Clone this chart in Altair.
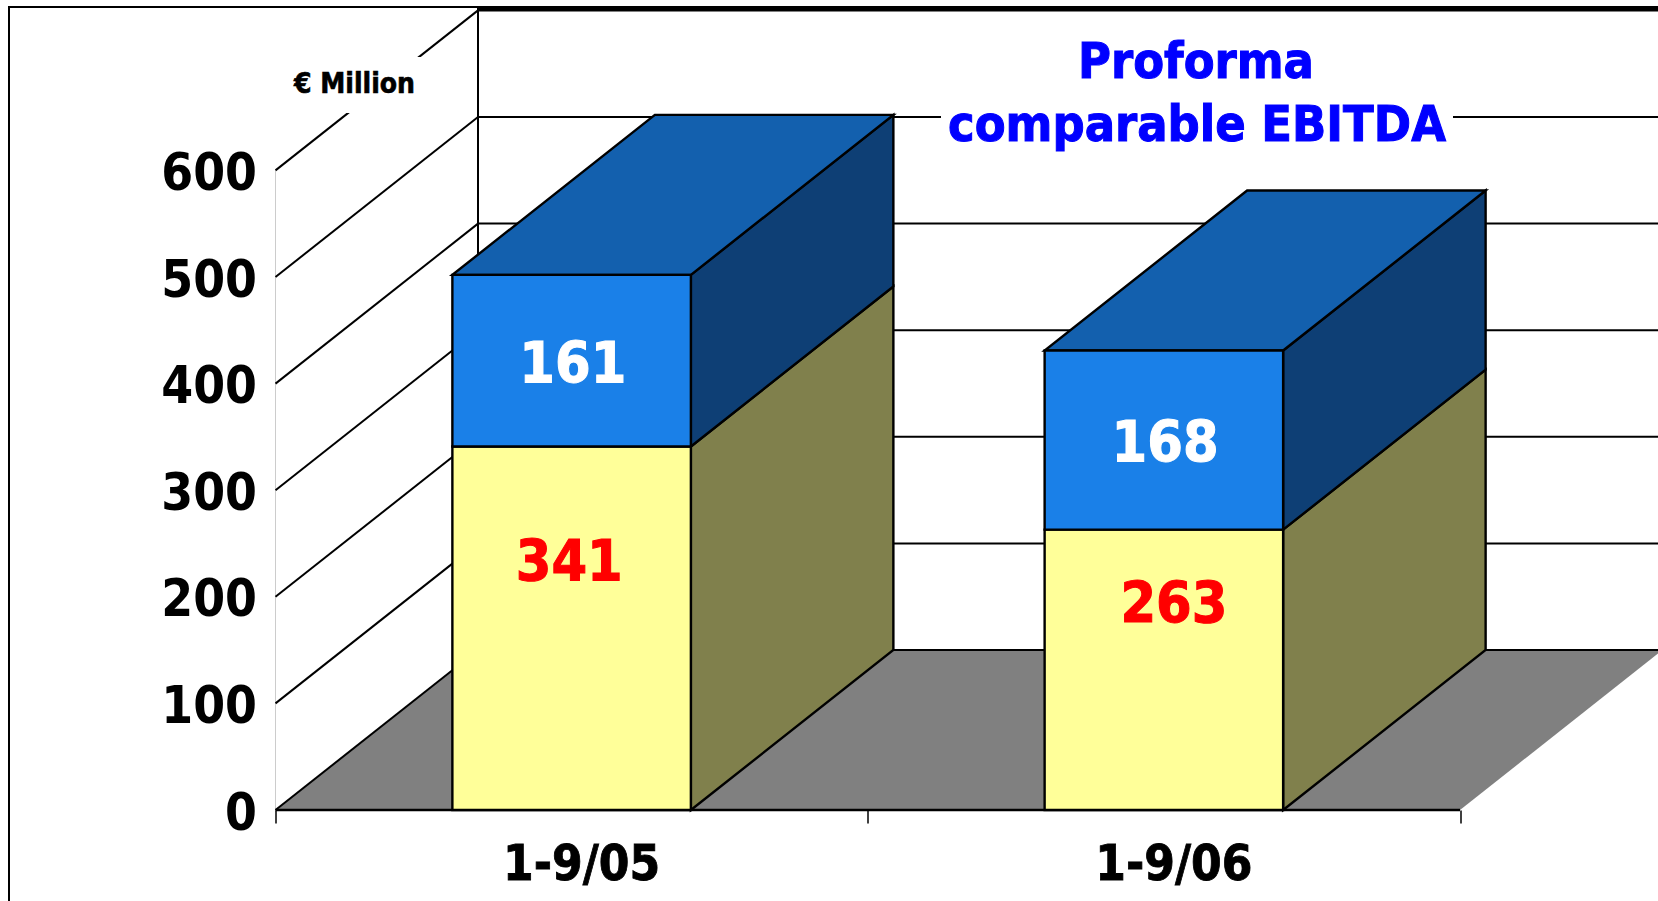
import altair as alt
import pandas as pd

# Chart values
periods = ["1-9/05", "1-9/06"]
lower_values = [341, 263]
upper_values = [161, 168]
y_ticks = [0, 100, 200, 300, 400, 500, 600]

# Oblique projection and layout of the pseudo-3D box
FONT = "DejaVu Sans Condensed"
PX_LEFT, PX_BASE = 275.5, 810
PX_PER_VALUE = 1.066
PX_PER_SLOT = 592.25
PLOT_W, PLOT_H = 1658 - PX_LEFT, PX_BASE
X_MAX = PLOT_W / PX_PER_SLOT
Y_MAX = PLOT_H / PX_PER_VALUE
DEPTH_X = 202.5 / PX_PER_SLOT
DEPTH_Y = 160 / PX_PER_VALUE
BAR_W = 238.5 / PX_PER_SLOT

LOWER_FRONT, LOWER_SIDE = "#FFFF99", "#80804C"
UPPER_FRONT, UPPER_SIDE, UPPER_TOP = "#1A80E8", "#0E3F75", "#1360AE"

x_scale = alt.Scale(domain=[0, X_MAX], nice=False, zero=False)
y_scale = alt.Scale(domain=[0, Y_MAX], nice=False, zero=False)

front, side, top, labels = [], [], [], []
label_nudge = [-0.004, 0.017]
for i, (period, low, up) in enumerate(zip(periods, lower_values, upper_values)):
    x0 = i + 0.5 - BAR_W / 2
    x1 = x0 + BAR_W
    total = low + up
    for name, y0, y1, f_col, s_col in [
        ("low", 0, low, LOWER_FRONT, LOWER_SIDE),
        ("up", low, total, UPPER_FRONT, UPPER_SIDE),
    ]:
        front.append(dict(x=x0, x2=x1, y=y0, y2=y1, fill=f_col))
        key = f"{i}-{name}"
        side.append(dict(key=key, x=x1, y=y0, y2=y1, fill=s_col))
        side.append(dict(key=key, x=x1 + DEPTH_X, y=y0 + DEPTH_Y, y2=y1 + DEPTH_Y, fill=s_col))
    top.append(dict(key=str(i), y=total, x=x0, x2=x1, fill=UPPER_TOP))
    top.append(dict(key=str(i), y=total + DEPTH_Y, x=x0 + DEPTH_X, x2=x1 + DEPTH_X, fill=UPPER_TOP))
    labels.append(dict(x=i + 0.5 + label_nudge[i], y=low / 2, text=str(low), color="#FF0000"))
    labels.append(dict(x=i + 0.5 + 0.002, y=low + up / 2, text=str(up), color="#FFFFFF"))

X = lambda f="x": alt.X(f"{f}:Q", scale=x_scale, axis=None)
Y = lambda f="y": alt.Y(f"{f}:Q", scale=y_scale, axis=None)
FILL = alt.Color("fill:N", scale=None, legend=None)

# Floor of the box, with the axes attached
floor_df = pd.DataFrame([
    dict(y=0, x=0, x2=2),
    dict(y=DEPTH_Y, x=DEPTH_X, x2=2 + DEPTH_X),
])
floor = alt.Chart(floor_df).mark_area(orient="horizontal", color="#808080").encode(
    x=alt.X("x:Q", scale=x_scale, axis=alt.Axis(
        values=[0, 1, 2], labels=False, domain=False, grid=False, title=None,
        tickColor="#000000", tickSize=13, tickWidth=1.5)),
    x2="x2:Q",
    y=alt.Y("y:Q", scale=y_scale, axis=alt.Axis(
        values=y_ticks, domain=False, ticks=False, grid=False, title=None,
        labelFont=FONT, labelFontWeight="bold", labelFontSize=51, labelColor="#000000",
        labelPadding=19, labelOffset=4, labelFlush=False, labelOverlap=False)),
)

# Grid lines: diagonal on the side wall, horizontal on the back wall
grid_df = pd.DataFrame(dict(v=y_ticks))
grid_df["v_back"] = grid_df.v + DEPTH_Y
grid_df["x0"] = 0.0
grid_df["x_back"] = DEPTH_X
grid_df["x_end"] = X_MAX
diagonals = alt.Chart(grid_df).mark_rule(color="#000000", strokeWidth=2).encode(
    x=X("x0"), x2="x_back:Q", y=Y("v"), y2="v_back:Q")
back_lines = alt.Chart(grid_df).mark_rule(color="#000000", strokeWidth=2).encode(
    x=X("x_back"), x2="x_end:Q", y=Y("v_back"))
wall_edge = alt.Chart(pd.DataFrame([dict(x=DEPTH_X, y=DEPTH_Y, y2=600 + DEPTH_Y)])).mark_rule(
    color="#000000", strokeWidth=2).encode(x=X(), y=Y(), y2="y2:Q")
front_line = alt.Chart(pd.DataFrame([dict(x=0, x2=2, y=0)])).mark_rule(
    color="#000000", strokeWidth=2.5).encode(x=X(), x2="x2:Q", y=Y())
value_line = alt.Chart(pd.DataFrame([dict(x=0, y=0, y2=600)])).mark_rule(
    color="#CCCCCC", strokeWidth=1).encode(x=X(), y=Y(), y2="y2:Q")

# Outer frame around the slide area; it merges with the top of the back wall
one = pd.DataFrame([dict(a=0)])
frame_left = alt.Chart(one).mark_rule(color="#000000", strokeWidth=2).encode(
    x=alt.value(9 - PX_LEFT), y=alt.value(6), y2=alt.value(901))
frame_top = alt.Chart(one).mark_rule(color="#000000", strokeWidth=2).encode(
    x=alt.value(9 - PX_LEFT), x2=alt.value(PLOT_W), y=alt.value(7))
frame_band = alt.Chart(one).mark_rule(color="#000000", strokeWidth=4.5).encode(
    x=alt.value(477 - PX_LEFT), x2=alt.value(PLOT_W), y=alt.value(8.5))

# White panels behind the captions
unit_mask = alt.Chart(one).mark_rect(color="#FFFFFF").encode(
    x=alt.value(285 - PX_LEFT), x2=alt.value(470 - PX_LEFT), y=alt.value(57), y2=alt.value(113))
title_mask = alt.Chart(one).mark_rect(color="#FFFFFF").encode(
    x=alt.value(941 - PX_LEFT), x2=alt.value(1453 - PX_LEFT), y=alt.value(100), y2=alt.value(135))


def caption(text, px, py, size, color, weight):
    return alt.Chart(pd.DataFrame([dict(t=text)])).mark_text(
        font=FONT, fontWeight="bold", fontSize=size, color=color, align="center", baseline="alphabetic",
        stroke=color, strokeWidth=weight,
    ).encode(x=alt.value(px - PX_LEFT), y=alt.value(py), text="t:N")


unit = caption("€ Million", 354.5, 93, 28, "#000000", 0.6)
title1 = caption("Proforma", 1196, 78, 50, "#0000FF", 1)
title2 = caption("comparable EBITDA", 1197, 141, 50, "#0000FF", 1)

# The two stacked boxes
side_faces = alt.Chart(pd.DataFrame(side)).mark_area(
    stroke="#000000", strokeWidth=2.4, orient="vertical").encode(
    x=X(), y=Y(), y2="y2:Q", color=FILL, detail="key:N")
top_faces = alt.Chart(pd.DataFrame(top)).mark_area(
    stroke="#000000", strokeWidth=2.4, orient="horizontal").encode(
    x=X(), x2="x2:Q", y=Y(), color=FILL, detail="key:N")
front_faces = alt.Chart(pd.DataFrame(front)).mark_rect(stroke="#000000", strokeWidth=2.4).encode(
    x=X(), x2="x2:Q", y=Y(), y2="y2:Q", color=FILL)

# Value labels inside the boxes
label_df = pd.DataFrame(labels)
low_labels = alt.Chart(label_df[label_df.color == "#FF0000"]).mark_text(
    font=FONT, fontWeight="bold", fontSize=57, color="#FF0000", stroke="#FF0000", strokeWidth=1,
    baseline="middle", dy=-64).encode(x=X(), y=Y(), text="text:N")
up_labels = alt.Chart(label_df[label_df.color == "#FFFFFF"]).mark_text(
    font=FONT, fontWeight="bold", fontSize=57, color="#FFFFFF", stroke="#FFFFFF", strokeWidth=1,
    baseline="middle", dy=5).encode(x=X(), y=Y(), text="text:N")

# Period names under the axis
period_df = pd.DataFrame(dict(x=[0.5, 1.5], text=periods))
period_labels = alt.Chart(period_df).mark_text(
    font=FONT, fontWeight="bold", fontSize=49, color="#000000", stroke="#000000", strokeWidth=0.8,
    align="center", baseline="alphabetic", dx=10
).encode(x=X(), y=alt.value(880), text="text:N")

chart = alt.layer(
    floor, frame_left, frame_top, frame_band, value_line, diagonals, back_lines, wall_edge, front_line,
    unit_mask, title_mask, unit, title1, title2,
    side_faces, top_faces, front_faces, low_labels, up_labels, period_labels,
).resolve_axis(x="independent", y="independent").properties(
    width=PLOT_W, height=PLOT_H, background="#FFFFFF",
    padding={"left": PX_LEFT, "top": 0, "right": 0, "bottom": 901 - PLOT_H},
    autosize=alt.AutoSizeParams(type="none"),
).configure_view(stroke=None)

chart.save("out.html", embed_options={"renderer": "svg", "actions": False})
